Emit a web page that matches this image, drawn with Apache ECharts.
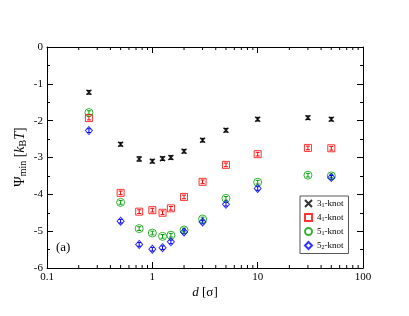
<!DOCTYPE html>
<html><head><meta charset="utf-8">
<script src="https://cdn.jsdelivr.net/npm/echarts@6/dist/echarts.min.js"></script>
<style>html,body{margin:0;padding:0;background:#fff}#c{width:409px;height:316px}</style>
</head><body><div id="c"></div>
<script>
const d      = [0.25, 0.5, 0.75, 1, 1.25, 1.5, 2, 3, 5, 10, 30, 50];
const knot31 = [-1.23, -2.64, -3.04, -3.10, -3.03, -3.00, -2.83, -2.53, -2.26, -1.96, -1.92, -1.96];
const knot41 = [-1.93, -3.96, -4.47, -4.43, -4.50, -4.38, -4.07, -3.66, -3.20, -2.91, -2.74, -2.75];
const knot51 = [-1.78, -4.22, -4.93, -5.05, -5.14, -5.11, -4.97, -4.67, -4.11, -3.67, -3.48, -3.50];
const knot52 = [-2.27, -4.73, -5.36, -5.49, -5.45, -5.29, -5.02, -4.75, -4.27, -3.84, null, -3.54];
const err31  = [0.05, 0.05, 0.06, 0.05, 0.05, 0.05, 0.05, 0.05, 0.05, 0.05, 0.05, 0.05];
const err41  = [0.05, 0.05, 0.05, 0.05, 0.05, 0.05, 0.05, 0.05, 0.05, 0.05, 0.05, 0.05];
const err51  = [0.05, 0.05, 0.05, 0.05, 0.05, 0.05, 0.05, 0.05, 0.05, 0.05, 0.05, 0.05];
const err52  = [0.05, 0.05, 0.05, 0.05, 0.05, 0.05, 0.05, 0.05, 0.05, 0.05, 0.05, 0.05];
const xMinorTicks = [0.2,0.3,0.4,0.5,0.6,0.7,0.8,0.9,2,3,4,5,6,7,8,9,20,30,40,50,60,70,80,90];
const names = ['3_1-knot','4_1-knot','5_1-knot','5_2-knot'];
const colors = ['#000000','#ff0000','#00a000','#0000ff'];
const FONT = 'Liberation Serif';

function pts(vals){ return d.map((x,i)=> vals[i]==null ? null : [x, vals[i]]).filter(p=>p); }
function errPts(vals, errs){ return d.map((x,i)=> vals[i]==null ? null : [x, vals[i], errs[i]]).filter(p=>p); }

function errSeries(vals, errs, color){
  return {
    type:'custom', xAxisIndex:0, yAxisIndex:0, silent:true, z:3,
    data: errPts(vals, errs), encode:{x:0,y:1},
    renderItem:(params, api)=>{
      const x=api.value(0), y=api.value(1), e=api.value(2);
      const top=api.coord([x,y+e]), bot=api.coord([x,y-e]);
      const w=2;
      return {type:'group', children:[
        {type:'line', shape:{x1:top[0],y1:top[1],x2:bot[0],y2:bot[1]}, style:{stroke:color,lineWidth:1}},
        {type:'line', shape:{x1:top[0]-w,y1:top[1],x2:top[0]+w,y2:top[1]}, style:{stroke:color,lineWidth:1}},
        {type:'line', shape:{x1:bot[0]-w,y1:bot[1],x2:bot[0]+w,y2:bot[1]}, style:{stroke:color,lineWidth:1}}
      ]};
    }
  };
}

const symbols = ['path://M0,0L10,10M10,0L0,10','rect','circle','diamond'];
const sizes = [5,7,8,[7,8]];
const sets = [knot31,knot41,knot51,knot52];
const errs = [err31,err41,err51,err52];

const series = [];
sets.forEach((vals,i)=>{
  series.push({
    name:names[i], type:'scatter', xAxisIndex:0, yAxisIndex:0, z:4,
    data:pts(vals), symbol:symbols[i], symbolSize:sizes[i],
    itemStyle:{color:'rgba(0,0,0,0)', borderColor:colors[i], borderWidth: i===0?1.5:1},
    emphasis:{disabled:true}
  });
  series.push(errSeries(vals, errs[i], colors[i]));
});
series.push({
  type:'custom', xAxisIndex:0, yAxisIndex:0, silent:true, z:5,
  data: xMinorTicks.map(v=>[v]), encode:{x:0},
  renderItem:(params, api)=>{
    const v=api.value(0);
    const b=api.coord([v,-6]), t=api.coord([v,0]);
    return {type:'group', children:[
      {type:'line', shape:{x1:b[0],y1:b[1],x2:b[0],y2:b[1]-3}, style:{stroke:'#000',lineWidth:1}},
      {type:'line', shape:{x1:t[0],y1:t[1],x2:t[0],y2:t[1]+3}, style:{stroke:'#000',lineWidth:1}}
    ]};
  }
});

const chart = echarts.init(document.getElementById('c'), null, {renderer:'canvas'});
const axisLine = {show:true, onZero:false, lineStyle:{color:'#000', width:1}};
chart.setOption({
  animation:false,
  backgroundColor:'#fff',
  grid:{left:47, right:46, top:47, bottom:48, containLabel:false},
  xAxis:[
    {type:'log', logBase:10, min:0.1, max:100, position:'bottom', axisLine,
     axisTick:{show:true, inside:true, length:6, lineStyle:{color:'#000'}},
     axisLabel:{color:'#000', fontFamily:FONT, fontSize:11, margin:4},
     splitLine:{show:false}},
    {type:'log', logBase:10, min:0.1, max:100, position:'top', axisLine,
     axisTick:{show:true, inside:true, length:6, lineStyle:{color:'#000'}},
     axisLabel:{show:false}, splitLine:{show:false}}
  ],
  yAxis:[
    {type:'value', min:-6, max:0, interval:1, position:'left', axisLine,
     axisTick:{show:true, inside:true, length:6, lineStyle:{color:'#000'}},
     minorTick:{show:true, splitNumber:2, length:3, lineStyle:{color:'#000'}},
     axisLabel:{color:'#000', fontFamily:FONT, fontSize:11, margin:4},
     splitLine:{show:false}, minorSplitLine:{show:false}},
    {type:'value', min:-6, max:0, interval:1, position:'right', axisLine,
     axisTick:{show:true, inside:true, length:6, lineStyle:{color:'#000'}},
     minorTick:{show:true, splitNumber:2, length:3, lineStyle:{color:'#000'}},
     axisLabel:{show:false}, splitLine:{show:false}, minorSplitLine:{show:false}}
  ],
  legend:{
    data:names, orient:'vertical', left:300, top:196,
    itemWidth:7, itemHeight:7, itemGap:4.5,
    padding:[3,5,3,4], borderColor:'#555', borderWidth:1, backgroundColor:'#fff',
    selectedMode:false,
    formatter:(n)=>{ const p=n.split('-')[0].split('_'); return p[0]+'{sub|'+p[1]+'}-knot'; },
    textStyle:{fontFamily:FONT, fontSize:9, color:'#000',
      rich:{sub:{fontFamily:FONT, fontSize:6, verticalAlign:'bottom', padding:[4,0,0,0]}}}
  },
  graphic:[
    {type:'text', left:56, top:241, style:{text:'(a)', font:'13px '+FONT, fill:'#000'}},
    {type:'text', x:205, y:293, style:{
      text:'{it|d} [σ]', font:'13px '+FONT, fill:'#000', align:'center', verticalAlign:'middle',
      rich:{it:{fontFamily:FONT, fontSize:13, fontStyle:'italic'}}}},
    {type:'text', x:20, y:157, rotation:Math.PI/2, style:{
      text:'Ψ{sub|min} [{it|k}{sub|B}{it|T}]', font:'14px '+FONT, fill:'#000', align:'center', verticalAlign:'middle',
      rich:{sub:{fontFamily:FONT, fontSize:10, padding:[6,0,0,0]}, it:{fontFamily:FONT, fontSize:14, fontStyle:'italic'}}}}
  ],
  series
});
</script></body></html>
